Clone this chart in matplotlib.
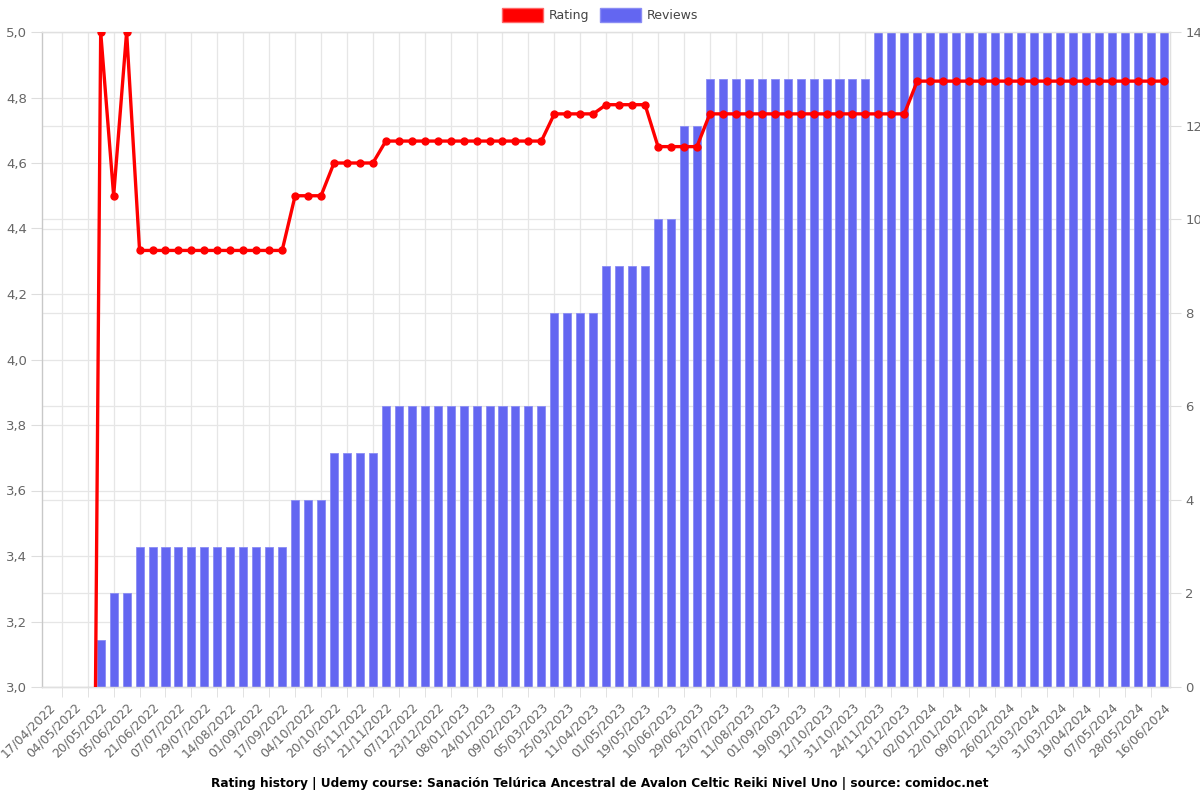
import matplotlib
matplotlib.use("Agg")
import matplotlib.pyplot as plt
from matplotlib.patches import Patch
import numpy as np

tick_labels = [
    "17/04/2022", "04/05/2022", "20/05/2022", "05/06/2022", "21/06/2022", "07/07/2022",
    "29/07/2022", "14/08/2022", "01/09/2022", "17/09/2022", "04/10/2022", "20/10/2022",
    "05/11/2022", "21/11/2022", "07/12/2022", "23/12/2022", "08/01/2023", "24/01/2023",
    "09/02/2023", "05/03/2023", "25/03/2023", "11/04/2023", "01/05/2023", "19/05/2023",
    "10/06/2023", "29/06/2023", "23/07/2023", "11/08/2023", "01/09/2023", "19/09/2023",
    "12/10/2023", "31/10/2023", "24/11/2023", "12/12/2023", "02/01/2024", "22/01/2024",
    "09/02/2024", "26/02/2024", "13/03/2024", "31/03/2024", "19/04/2024", "07/05/2024",
    "28/05/2024", "16/06/2024",
]

# one value per category (87 categories, every other one labelled)
reviews = ([0] * 4 + [1] + [2] * 2 + [3] * 12 + [4] * 3 + [5] * 4 + [6] * 13 +
           [8] * 4 + [9] * 4 + [10] * 2 + [12] * 2 + [13] * 13 + [14] * 23)
rating = ([0] * 4 + [5.0, 4.5, 5.0] + [4.333] * 12 + [4.5] * 3 + [4.6] * 4 +
          [4.667] * 13 + [4.75] * 4 + [4.778] * 4 + [4.65] * 4 + [4.75] * 16 +
          [4.85] * 20)

n = len(reviews)
x = np.arange(n)

fig = plt.figure(figsize=(12, 8), dpi=100)
ax = fig.add_axes([0.0353, 0.14125, 0.975 - 0.0353, 0.96 - 0.14125])
ax2 = ax.twinx()

bar_color = "#6366f1"
ax.bar(x, reviews, width=0.62, color=bar_color, edgecolor="#8a8cf4", linewidth=0.6, zorder=2)
ax.set_xlim(-0.5, n - 0.5)
ax.set_ylim(0, 14)
ax.yaxis.tick_right()
ax.set_yticks(np.arange(0, 15, 2))
ax.set_yticklabels([str(v) for v in range(0, 15, 2)])
# rating grid positions expressed on the reviews axis
ax.set_yticks(np.linspace(0, 14, 11), minor=True)
ax.tick_params(axis="y", which="major", length=8, color="#dddddd", labelsize=9.5,
               labelcolor="#666666", pad=3)
ax.tick_params(axis="y", which="minor", length=0)

ax.set_xticks(x[::2])
ax.set_xticklabels(tick_labels, rotation=45, ha="right", rotation_mode="anchor")
ax.set_xticks(np.arange(1, n, 2), minor=True)
ax.tick_params(axis="x", which="major", length=0, labelsize=8.9, labelcolor="#666666", pad=10)
ax.tick_params(axis="x", which="minor", length=7, color="#dddddd")
ax.grid(True, which="major", axis="y", color="#e6e6e6", linewidth=0.9, zorder=0)
ax.grid(True, which="minor", axis="y", color="#e6e6e6", linewidth=0.9, zorder=0)
ax.grid(True, which="minor", axis="x", color="#e6e6e6", linewidth=0.9, zorder=0)
ax.set_axisbelow(True)

ax2.plot(x, rating, color="#ff0000", linewidth=2.4, marker="o", markersize=5,
         markerfacecolor="#ff0000", markeredgecolor="#ff0000", zorder=3)
ax2.set_ylim(3.0, 5.0)
ax2.yaxis.tick_left()
ax2.set_yticks(np.round(np.arange(3.0, 5.01, 0.2), 1))
ax2.set_yticklabels([f"{v:.1f}".replace(".", ",") for v in np.arange(3.0, 5.01, 0.2)])
ax2.tick_params(axis="y", length=8, color="#dddddd", labelsize=9.5, labelcolor="#666666", pad=3)
ax2.grid(False)

for a in (ax, ax2):
    for s in a.spines.values():
        s.set_color("#e0e0e0")
        s.set_linewidth(0.9)
ax.spines["bottom"].set_color("#c8c8c8")
ax2.spines["left"].set_color("#c8c8c8")

handles = [Patch(facecolor="#ff0000", edgecolor="#ff6666", label="Rating"),
           Patch(facecolor=bar_color, edgecolor="#8a8cf4", label="Reviews")]
fig.legend(handles=handles, loc="center", bbox_to_anchor=(0.5, 0.981), ncol=2,
           frameon=False, fontsize=9, handlelength=3.3, handleheight=1.3,
           handletextpad=0.4, columnspacing=0.9, labelcolor="#444444")

fig.text(0.5, 0.021,
         "Rating history | Udemy course: Sanación Telúrica Ancestral de Avalon Celtic Reiki Nivel Uno | source: comidoc.net",
         ha="center", va="center", fontsize=8.7, fontweight="bold", color="#000000")

fig.savefig("out.png", dpi=100)
